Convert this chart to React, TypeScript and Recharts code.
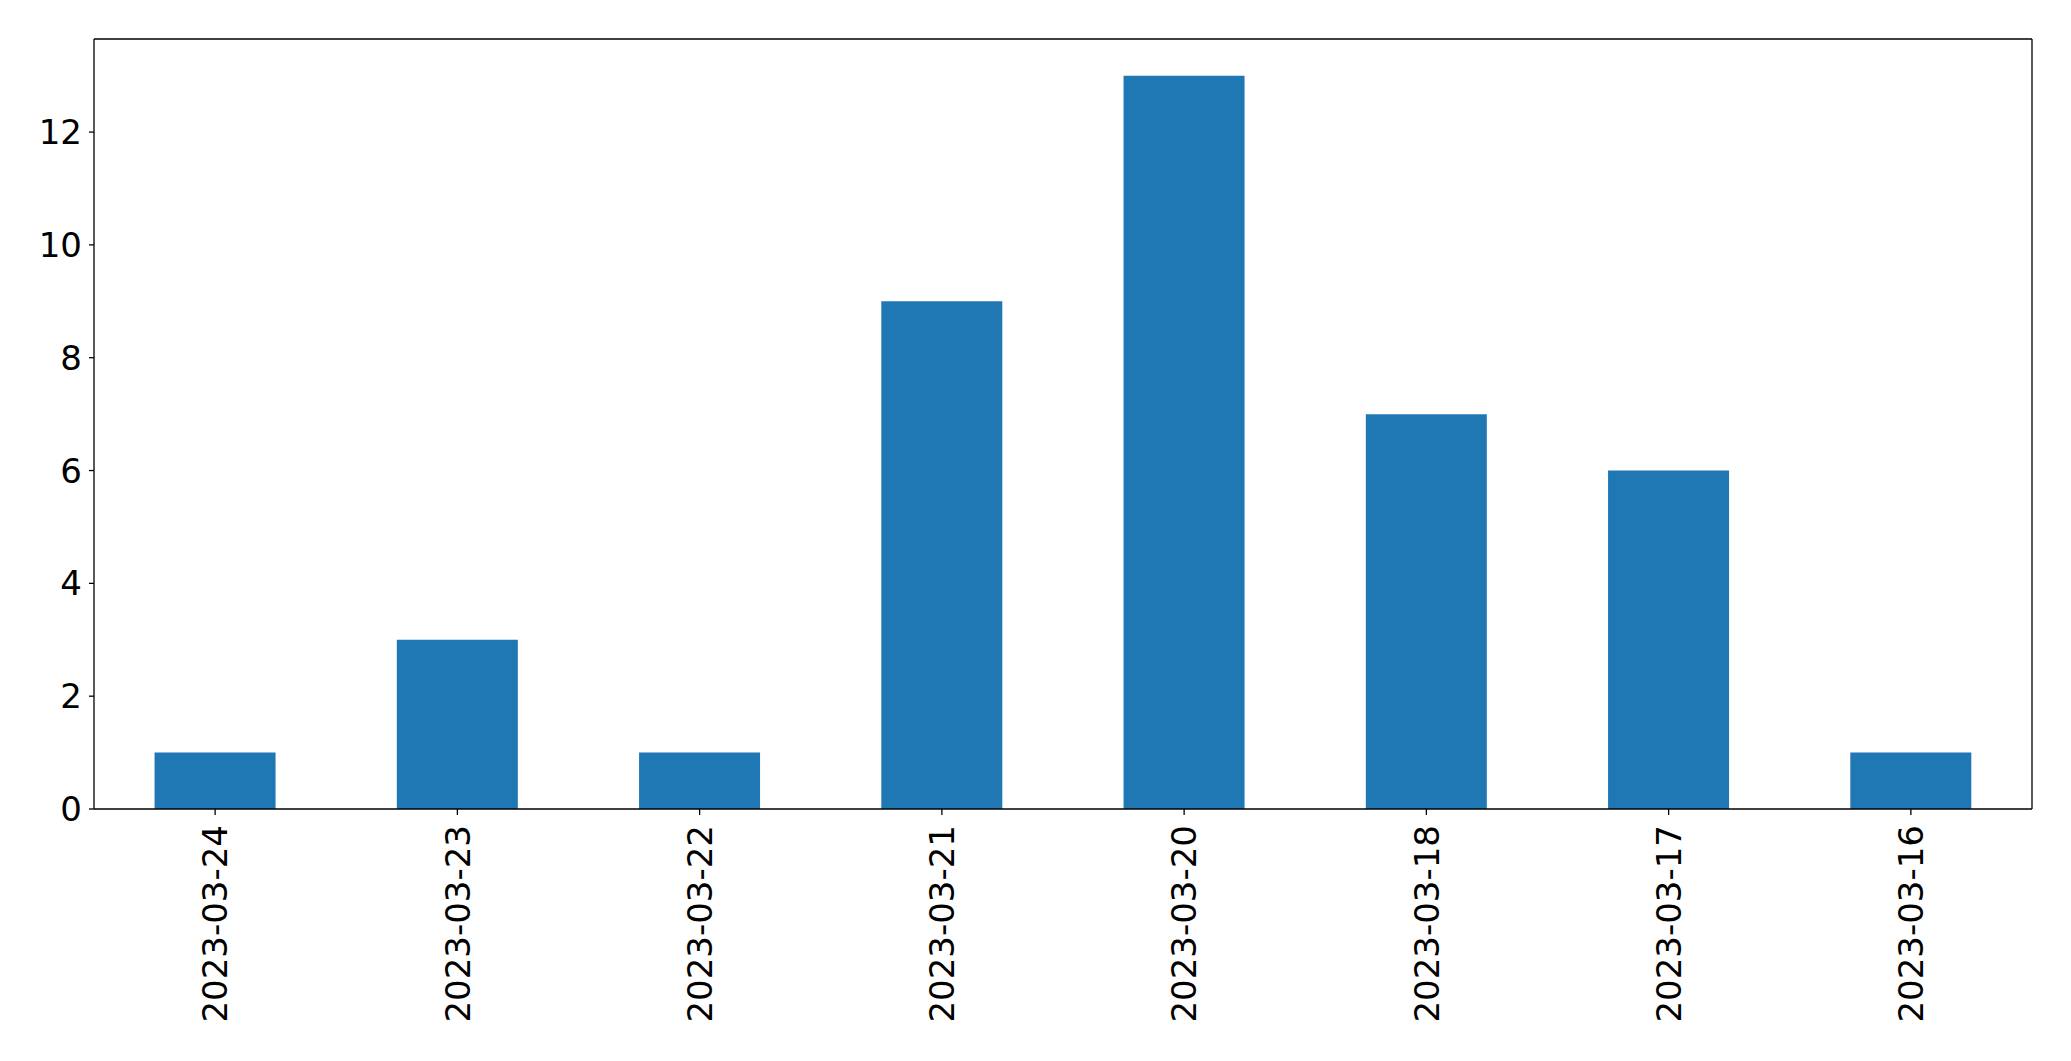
import { Bar, BarChart, XAxis, YAxis } from "recharts";

const fechas = [
  "2023-03-24",
  "2023-03-23",
  "2023-03-22",
  "2023-03-21",
  "2023-03-20",
  "2023-03-18",
  "2023-03-17",
  "2023-03-16",
];
const conteos = [1, 3, 1, 9, 13, 7, 6, 1];
const yTicks = [0, 2, 4, 6, 8, 10, 12];

const datos = fechas.map((fecha, i) => ({ fecha, valor: conteos[i] }));

const FONT = "'DejaVu Sans', sans-serif";

function FechaTick({ x, y, payload }: { x?: number; y?: number; payload?: { value: string } }) {
  return (
    <g transform={`translate(${x},${y})`}>
      <text
        transform="rotate(-90)"
        textAnchor="end"
        dy="0.36em"
        fontSize={34}
        fontFamily={FONT}
        fill="#000"
      >
        {payload?.value}
      </text>
    </g>
  );
}

export default function App() {
  return (
    <div style={{ width: 2071, height: 1061, background: "#fff" }}>
      <style>{`body{margin:0}`}</style>
      <BarChart
        width={2071}
        height={1061}
        data={datos}
        margin={{ top: 38, right: 38, left: 0, bottom: 0 }}
        barCategoryGap="25%"
      >
        <XAxis
          dataKey="fecha"
          height={252}
          interval={0}
          tick={<FechaTick />}
          tickSize={6}
          tickMargin={10}
          axisLine={{ stroke: "#000", strokeWidth: 1.3 }}
          tickLine={{ stroke: "#000", strokeWidth: 1.3 }}
        />
        <XAxis
          xAxisId="top"
          orientation="top"
          dataKey="fecha"
          height={1}
          tick={false}
          tickLine={false}
          axisLine={{ stroke: "#000", strokeWidth: 1.3 }}
        />
        <YAxis
          width={94}
          domain={[0, 13.65]}
          ticks={yTicks}
          tickSize={5}
          tickMargin={7}
          tick={{ fill: "#000", fontSize: 34, fontFamily: FONT }}
          axisLine={{ stroke: "#000", strokeWidth: 1.3 }}
          tickLine={{ stroke: "#000", strokeWidth: 1.3 }}
        />
        <YAxis
          yAxisId="right"
          orientation="right"
          width={1}
          domain={[0, 13.65]}
          tick={false}
          tickLine={false}
          axisLine={{ stroke: "#000", strokeWidth: 1.3 }}
        />
        <Bar dataKey="valor" fill="#1f77b4" isAnimationActive={false} />
      </BarChart>
    </div>
  );
}
